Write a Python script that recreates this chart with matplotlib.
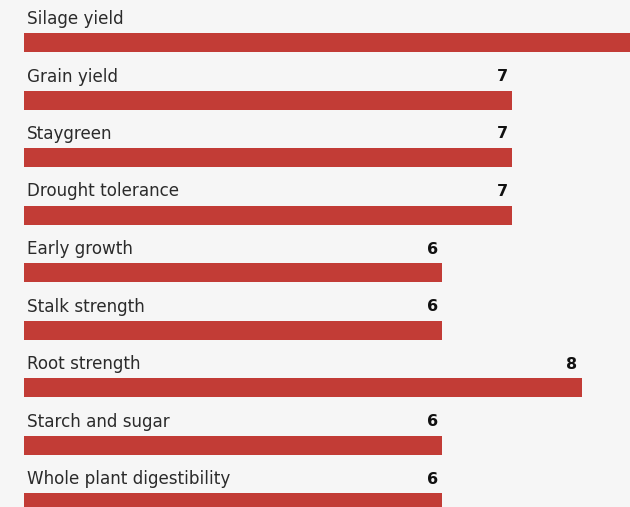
import matplotlib
matplotlib.use("Agg")
import matplotlib.pyplot as plt

# ---------- data ----------
traits = [
    "Silage yield", "Grain yield", "Staygreen", "Drought tolerance",
    "Early growth", "Stalk strength", "Root strength",
    "Starch and sugar", "Whole plant digestibility",
]
scores = [9, 7, 7, 7, 6, 6, 8, 6, 6]

BAR_COLOR = "#c23c36"
BG = "#f6f6f6"

plt.rcParams["font.family"] = ["DejaVu Sans"]

fig = plt.figure(figsize=(6.3, 5.07), dpi=100, facecolor=BG)
ax = fig.add_axes([0, 0, 1, 1], facecolor=BG)

# pixel geometry -> data limits
px_unit = 69.7
x0_px = 24
row_px = 57.5
first_center_px = 42.5

xmax = (630 - x0_px) / px_unit
ax.set_xlim(-x0_px / px_unit, xmax)
top = -first_center_px / row_px
bottom = top + 507 / row_px
ax.set_ylim(bottom, top)

y = list(range(len(traits)))
bar_h = 19 / row_px
ax.barh(y, scores, height=bar_h, color=BAR_COLOR, edgecolor="none")

label_off = 23.5 / row_px
for i, (t, s) in enumerate(zip(traits, scores)):
    ax.text(3 / px_unit, i - label_off, t, ha="left", va="center",
            fontsize=12.1, color="#2b2b2b")
    if s <= xmax:  # value sits past the right edge for the longest bar
        ax.text(s - 4 / px_unit, i - label_off, str(s), ha="right", va="center",
                fontsize=11.5, fontweight="bold", color="#111111")

ax.axis("off")
fig.savefig("out.png", dpi=100, facecolor=BG)
